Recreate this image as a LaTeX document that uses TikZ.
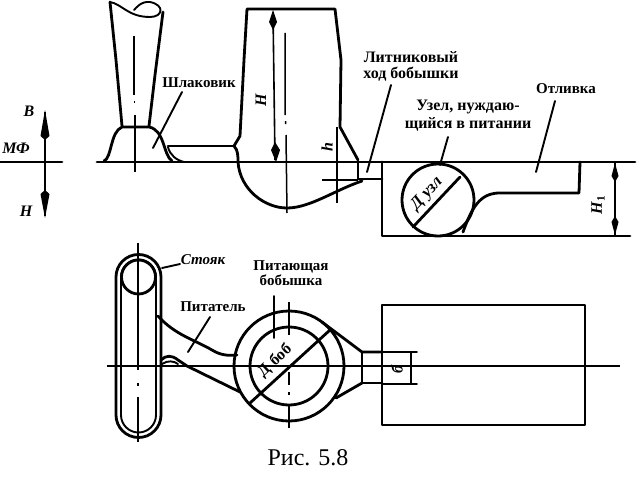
\documentclass[tikz,border=0pt]{standalone}
\usepackage{fontspec}
\setmainfont{Liberation Serif}
\usetikzlibrary{arrows.meta}
\tikzset{
 thick line/.style={line width=2.8pt,line join=round,line cap=round},
 mid line/.style={line width=1.9pt,line join=round,line cap=round},
 axis line/.style={line width=1.5pt},
 lbl/.style={font=\bfseries\fontsize{15}{16}\selectfont,inner sep=0pt,align=center},
 lblbig/.style={font=\bfseries\fontsize{16}{17}\selectfont,inner sep=0pt,align=center},
 sym/.style={font=\bfseries\itshape\fontsize{16}{16}\selectfont,inner sep=0pt},
}
\begin{document}
\begin{tikzpicture}[x=1pt,y=-1pt]
\useasboundingbox (0,0) rectangle (639,487);
\fill[white] (0,0) rectangle (639,487);
% direction key
\draw[thick line] (0,162) -- (62,162);
\draw[line width=1.8pt] (45,112) -- (45,216);
\fill (45,110) -- (49.5,136) -- (45,140) -- (40.5,136) -- cycle;
\fill (45,218) -- (49.5,194) -- (45,190) -- (40.5,194) -- cycle;
\node[sym] at (29,111) {В};
\node[sym] at (16,148) {МФ};
\node[sym] at (26,211) {Н};
% parting line
\draw[thick line] (97,162) -- (635,162);
% sprue
\draw[thick line] (110,2) -- (116,60) -- (122,126);
\draw[thick line] (163,12) -- (155,75) -- (149,126);
\draw[mid line] (110,2) .. controls (122,4) and (128,17) .. (150,17) .. controls (163,17) and (165,5) .. (150,2) .. controls (141,1) and (136,8) .. (134,10);
\draw[axis line] (134,36) -- (134,95) (134.5,101) -- (134.5,103) (135,115) -- (135,172);
% slag trap
\draw[thick line] (104,161) .. controls (112,158) and (110,132) .. (122,127) -- (149,127) .. controls (165,130) and (163,155) .. (172,161);
\draw[thick line] (168,146) -- (234,146);
\draw[mid line] (168,147) .. controls (170,155) and (176,160) .. (184,162);
\draw[thick line] (234,146) -- (240,136) -- (244,60) -- (247,9) -- (335,9) -- (341,60) -- (340,127) -- (358,160);
\draw[thick line] (234,146) .. controls (238,150) and (238,156) .. (238,162) .. controls (240,190) and (265,208) .. (287,208) .. controls (310,208) and (335,190) .. (362,181);
% riser dims
\draw[axis line] (285,33) -- (285,115) (285.5,121) -- (285.5,124) (286,135) -- (287,213);
\draw[line width=1.6pt] (273,12) -- (275,160);
\fill (273,10) -- (277,22) -- (273,30) -- (269,22) -- cycle;
\fill (276,162) -- (280,150) -- (275,142) -- (271,150) -- cycle;
\node[sym,rotate=90] at (261,100) {Н};
\node[sym,rotate=90] at (327,147) {h};
\draw[line width=1.7pt] (337,127) -- (337,203);
\draw[line width=1.5pt] (322,180) -- (358,180);
% gate
\draw[thick line] (358,162) -- (358,179) -- (382,179);
\draw[thick line] (382,162) -- (382,236) -- (630,236);
% casting
\draw[thick line] (580,162) -- (579,193) -- (498,193) .. controls (480,194) and (472,207) .. (463,232);
\draw[thick line] (438,200) circle[radius=36];
\draw[thick line] (413,227) -- (460,177);
\node[rotate=47,font=\bfseries\itshape\fontsize{17}{17}\selectfont,inner sep=0pt] at (427,194) {Д узл};
% H1
\draw[line width=1.9pt] (615,163) -- (615,235);
\fill (615,163) -- (618.5,176) -- (615,182) -- (611.5,176) -- cycle;
\fill (615,235) -- (618.5,222) -- (615,216) -- (611.5,222) -- cycle;
\node[sym,rotate=90] at (598,205) {Н$_{\mathbf 1}$};
% labels upper
\node[lbl] (slag) at (199,83) {Шлаковик};
\coordinate (slagE) at (153,148);
\draw[mid line] (182,92) -- (slagE);
\node[lblbig] (gate) at (411,66) {Литниковый\\[-1pt]ход бобышки};
\coordinate (gateE) at (367,172);
\draw[mid line] (391,85) -- (gateE);
\node[lblbig] (knot) at (468,116) {Узел, нуждаю-\\[1pt]щийся в питании};
\coordinate (knotE) at (440,165);
\draw[mid line] (448,137) -- (knotE);
\node[lbl] (cast) at (566,89) {Отливка};
\coordinate (castE) at (536,172);
\draw[mid line] (555,101) -- (castE);
% plan: riser
\draw[thick line] (116,277) arc[start angle=180,end angle=360,radius=22.5] -- (161,415) arc[start angle=0,end angle=180,radius=22.5] -- cycle;
\draw[mid line] (121,277) arc[start angle=180,end angle=360,radius=17.5] -- (156,415) arc[start angle=0,end angle=180,radius=17.5] -- cycle;
\draw[thick line] (138.5,277) circle[radius=17];
\draw[axis line] (138,243) -- (138,370) (138,383) -- (138,386) (138,397) -- (138,442);
% centre line
\draw[line width=1.7pt] (107,366) -- (620,366);
% runner
\draw[thick line] (158,316) .. controls (175,335) and (195,340) .. (212,350) .. controls (220,355) and (228,356) .. (237,355);
\draw[thick line] (161,360) .. controls (166,355) and (172,355) .. (178,360) -- (187,366) -- (240,392);
\draw[mid line] (162,364) .. controls (168,360) and (174,361) .. (178,364);
% boss
\draw[thick line] (289,366) circle[radius=39];
\draw[thick line] (289,366) circle[radius=55];
\draw[thick line] (250,403) -- (330,330);
\draw[axis line] (289,302) -- (289,335) (289,372) -- (289,385) (289,392) -- (289,395) (289,405) -- (289,428);
\node[rotate=43,font=\bfseries\fontsize{16}{16}\selectfont,inner sep=0pt] at (275,361) {Д\,\,боб};
% neck
\draw[thick line] (322,322) -- (362,352) -- (382,352);
\draw[thick line] (362,352) -- (362,383) -- (382,383);
\draw[thick line] (336,398) -- (362,383);
\draw[mid line] (382,352) -- (417,352);
\draw[mid line] (382,384) -- (417,384);
\draw[line width=1.9pt] (411,352) -- (411,384);
\node[sym,rotate=90] at (397,370) {б};
% casting plan
\draw[thick line] (585,305) -- (382,305) -- (382,425) -- (585,425) -- cycle;
% plan labels
\node[lbl,font=\itshape\bfseries\fontsize{15}{16}\selectfont] (riser) at (203,260) {Стояк};
\coordinate (riserE) at (162,268);
\draw[mid line] (180,264) -- (riserE);
\node[lbl] (feed) at (213,307) {Питатель};
\coordinate (feedE) at (188,352);
\draw[mid line] (210,317) -- (feedE);
\node[lbl] (boss) at (291,273) {Питающая\\[-1pt]бобышка};
\coordinate (bossE) at (274,338);
\draw[mid line] (274,296) -- (bossE);
\node[inner sep=0pt,font=\fontsize{24}{24}\selectfont] (cap) at (308,458) {Рис. 5.8};
\end{tikzpicture}
\end{document}
